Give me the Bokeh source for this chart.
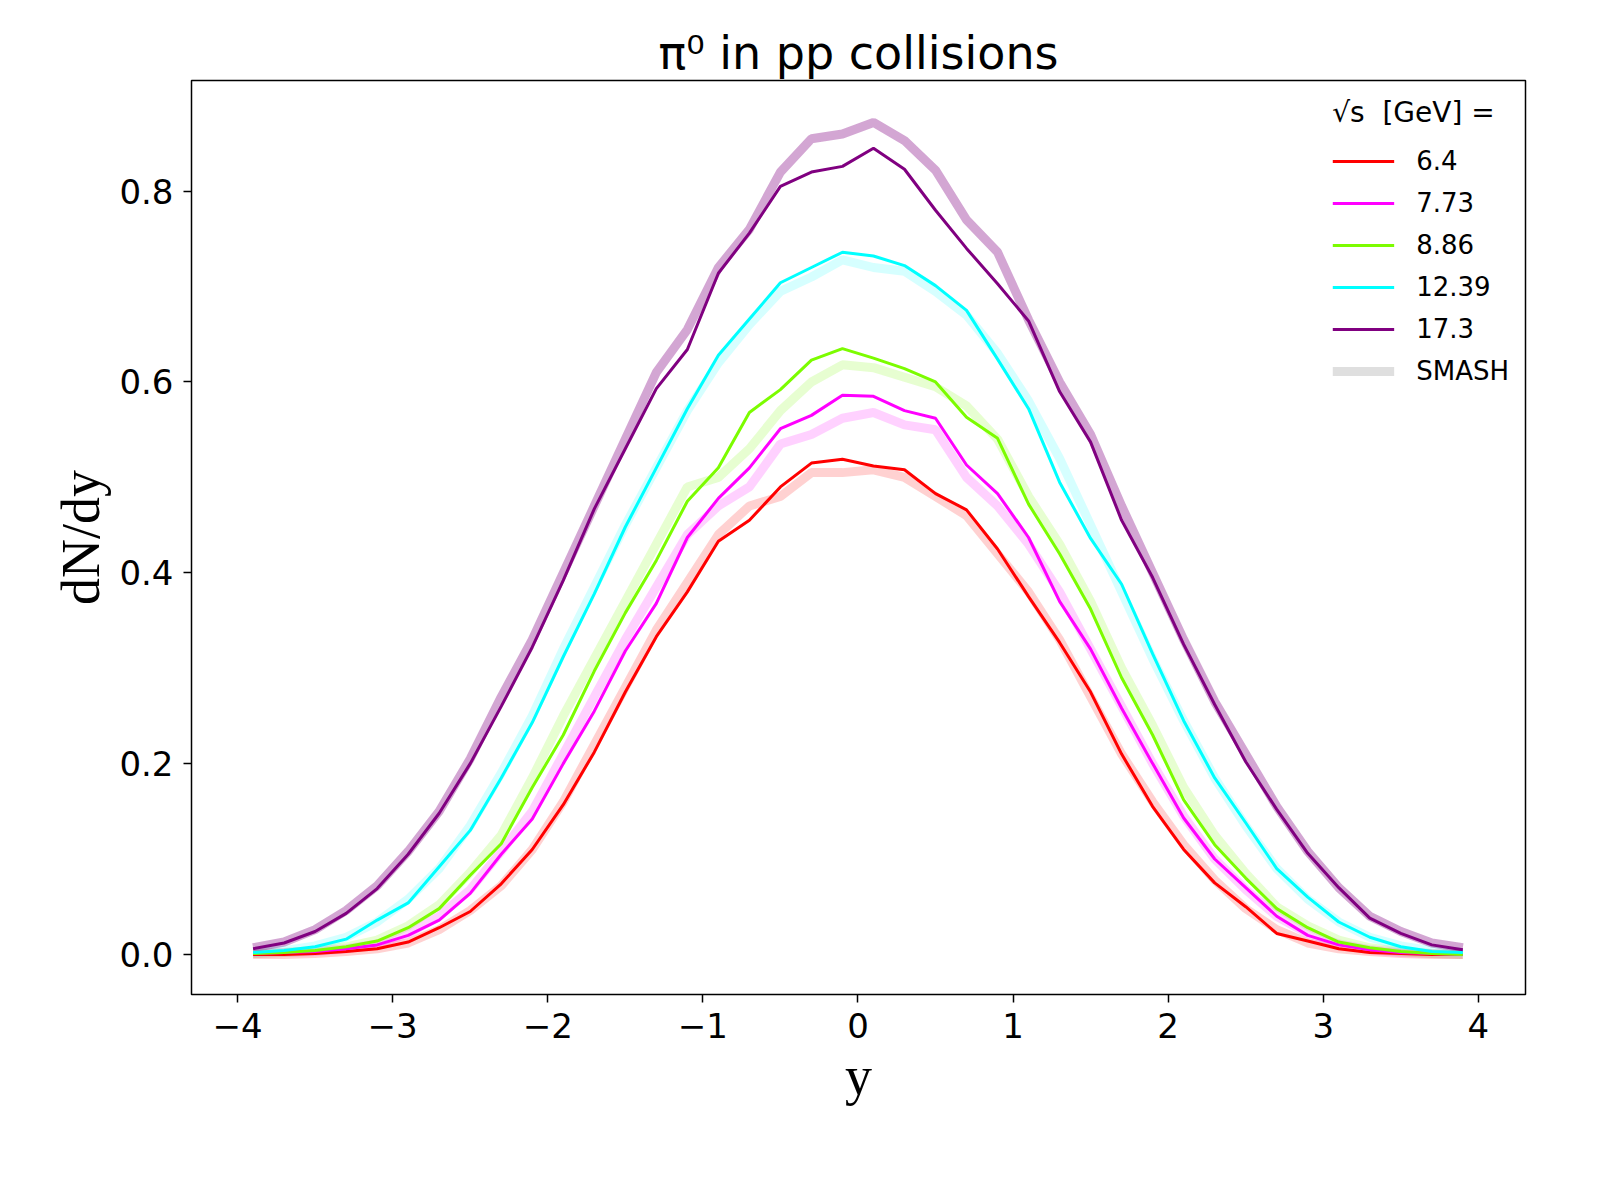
from bokeh.plotting import figure
from bokeh.models import Legend, LegendItem, Label, Range1d, FixedTicker
from bokeh.embed import file_html
from bokeh.resources import INLINE

y_bins = [round(-3.9 + 0.2 * i, 1) for i in range(40)]
energies = ["6.4", "7.73", "8.86", "12.39", "17.3"]
colors = ["red", "magenta", "lawngreen", "cyan", "purple"]

exp_64 = [0.0, 0.0, 0.001, 0.003, 0.006, 0.013, 0.028, 0.045, 0.074, 0.11, 0.157, 0.212, 0.275, 0.333, 0.38, 0.433, 0.455, 0.49, 0.515, 0.519,
          0.512, 0.508, 0.483, 0.466, 0.425, 0.375, 0.327, 0.275, 0.21, 0.155, 0.11, 0.075, 0.05, 0.022, 0.014, 0.006, 0.002, 0.001, 0.0, 0.0]
exp_773 = [0.001, 0.002, 0.003, 0.006, 0.01, 0.02, 0.036, 0.064, 0.105, 0.142, 0.2, 0.255, 0.318, 0.368, 0.437, 0.478, 0.51, 0.551, 0.565, 0.586,
           0.585, 0.57, 0.562, 0.513, 0.483, 0.437, 0.37, 0.32, 0.258, 0.2, 0.143, 0.1, 0.07, 0.04, 0.02, 0.01, 0.005, 0.002, 0.001, 0.0]
exp_886 = [0.001, 0.002, 0.004, 0.008, 0.014, 0.028, 0.048, 0.083, 0.116, 0.175, 0.23, 0.297, 0.358, 0.413, 0.475, 0.51, 0.568, 0.592, 0.623, 0.635,
           0.625, 0.614, 0.6, 0.563, 0.541, 0.472, 0.42, 0.362, 0.29, 0.23, 0.162, 0.115, 0.08, 0.048, 0.028, 0.013, 0.007, 0.003, 0.001, 0.0]
exp_1239 = [0.002, 0.004, 0.008, 0.016, 0.036, 0.054, 0.092, 0.13, 0.185, 0.243, 0.312, 0.378, 0.448, 0.51, 0.572, 0.628, 0.666, 0.704, 0.72, 0.736,
            0.732, 0.722, 0.701, 0.675, 0.624, 0.572, 0.495, 0.436, 0.388, 0.315, 0.245, 0.185, 0.138, 0.09, 0.06, 0.034, 0.018, 0.008, 0.003, 0.002]
exp_173 = [0.006, 0.012, 0.024, 0.043, 0.069, 0.105, 0.148, 0.2, 0.26, 0.322, 0.392, 0.467, 0.53, 0.593, 0.634, 0.714, 0.756, 0.805, 0.82, 0.826,
           0.845, 0.823, 0.78, 0.74, 0.703, 0.664, 0.59, 0.537, 0.455, 0.395, 0.325, 0.262, 0.202, 0.152, 0.106, 0.07, 0.038, 0.022, 0.01, 0.005]

smash_64 = [0.0, 0.0, 0.001, 0.003, 0.006, 0.012, 0.026, 0.046, 0.072, 0.11, 0.16, 0.22, 0.28, 0.34, 0.39, 0.44, 0.47, 0.48, 0.505, 0.505,
            0.508, 0.5, 0.48, 0.46, 0.42, 0.38, 0.33, 0.27, 0.21, 0.16, 0.115, 0.078, 0.048, 0.026, 0.012, 0.006, 0.003, 0.001, 0.0, 0.0]
smash_773 = [0.001, 0.002, 0.003, 0.006, 0.011, 0.022, 0.04, 0.068, 0.108, 0.15, 0.21, 0.27, 0.33, 0.385, 0.44, 0.47, 0.49, 0.535, 0.545, 0.562,
             0.568, 0.555, 0.55, 0.5, 0.47, 0.43, 0.38, 0.32, 0.26, 0.2, 0.145, 0.1, 0.068, 0.04, 0.022, 0.011, 0.005, 0.002, 0.001, 0.0]
smash_886 = [0.001, 0.002, 0.004, 0.008, 0.015, 0.03, 0.052, 0.086, 0.125, 0.185, 0.25, 0.31, 0.37, 0.43, 0.49, 0.5, 0.53, 0.57, 0.6, 0.618,
             0.615, 0.605, 0.595, 0.575, 0.54, 0.48, 0.43, 0.37, 0.3, 0.24, 0.175, 0.125, 0.085, 0.05, 0.03, 0.015, 0.007, 0.003, 0.001, 0.0]
smash_1239 = [0.002, 0.004, 0.009, 0.018, 0.034, 0.058, 0.09, 0.135, 0.19, 0.25, 0.32, 0.385, 0.45, 0.51, 0.57, 0.62, 0.66, 0.695, 0.71, 0.728,
              0.72, 0.716, 0.695, 0.67, 0.63, 0.58, 0.52, 0.45, 0.38, 0.31, 0.245, 0.185, 0.135, 0.09, 0.058, 0.034, 0.018, 0.009, 0.004, 0.002]
smash_173 = [0.007, 0.013, 0.026, 0.046, 0.072, 0.108, 0.15, 0.205, 0.27, 0.33, 0.4, 0.47, 0.54, 0.61, 0.655, 0.72, 0.76, 0.82, 0.855, 0.86,
             0.872, 0.853, 0.822, 0.77, 0.736, 0.665, 0.6, 0.545, 0.47, 0.4, 0.33, 0.265, 0.21, 0.155, 0.108, 0.07, 0.04, 0.024, 0.012, 0.007]

exp_sets = [exp_64, exp_773, exp_886, exp_1239, exp_173]
smash_sets = [smash_64, smash_773, smash_886, smash_1239, smash_173]
smash_alpha = [0.18, 0.18, 0.18, 0.16, 0.35]

p = figure(frame_width=1334, frame_height=914, output_backend="svg", toolbar_location=None,
           x_range=Range1d(-4.297, 4.304), y_range=Range1d(-0.042, 0.916),
           min_border_left=191, min_border_right=35, min_border_top=80, min_border_bottom=158)
p.grid.visible = False
p.outline_line_color = "black"
p.outline_line_width = 1.5

p.title.text = "π⁰ in pp collisions"
p.title.text_font = "DejaVu Sans"
p.title.text_font_size = "46px"
p.title.text_font_style = "normal"
p.title.text_color = "black"
p.title.align = "center"
p.title.offset = 0
p.title.standoff = 2

for ax in (p.xaxis[0], p.yaxis[0]):
    ax.major_label_text_font = "DejaVu Sans"
    ax.major_label_text_font_size = "34px"
    ax.major_label_text_color = "black"
    ax.minor_tick_line_color = None
    ax.major_tick_out = 8
    ax.major_tick_in = 0
    ax.major_tick_line_width = 1.5
    ax.major_tick_line_color = "black"
    ax.axis_line_color = None
    ax.axis_label_text_font = "Liberation Serif"
    ax.axis_label_text_font_size = "54px"
    ax.axis_label_text_font_style = "normal"
    ax.axis_label_text_color = "black"
p.xaxis.ticker = FixedTicker(ticks=[-4, -3, -2, -1, 0, 1, 2, 3, 4])
p.yaxis.ticker = FixedTicker(ticks=[0.0, 0.2, 0.4, 0.6, 0.8])
p.xaxis.major_label_overrides = {t: ("−%d" % -t if t < 0 else str(t)) for t in range(-4, 5)}
p.yaxis.major_label_overrides = {0.0: "0.0", 0.2: "0.2", 0.4: "0.4", 0.6: "0.6", 0.8: "0.8"}
p.xaxis.axis_label = "y"
p.yaxis.axis_label = "dN/dy"
p.xaxis.major_label_standoff = 10
p.yaxis.major_label_standoff = 10

items = []
for e, c, ex, sm, a in zip(energies, colors, exp_sets, smash_sets, smash_alpha):
    p.line(y_bins, sm, line_color=c, line_alpha=a, line_width=9)
for e, c, ex in zip(energies, colors, exp_sets):
    r = p.line(y_bins, ex, line_color=c, line_width=3)
    items.append(LegendItem(label=e, renderers=[r]))
rs = p.line([0], [0], line_color="gray", line_alpha=0.25, line_width=9, visible=False)
items.append(LegendItem(label="SMASH", renderers=[rs]))

leg = Legend(items=items, location="top_right", border_line_color=None,
             background_fill_alpha=0, title="√s  [GeV] =",
             title_text_font="DejaVu Sans", title_text_font_size="28px", title_text_font_style="normal",
             title_text_color="black", title_standoff=14,
             label_text_font="DejaVu Sans", label_text_font_size="26px", label_text_color="black",
             glyph_width=62, glyph_height=36, label_standoff=22, spacing=6, margin=16)
p.add_layout(leg)

p.add_layout(Label(x=-3.95, y=0.955, text="SMASH code:      SMASH-3.4",
                   text_font="DejaVu Sans", text_font_size="10px", text_color="#555555"))
p.add_layout(Label(x=-3.95, y=0.942, text="SMASH analysis: SMASH-analysis-3.4",
                   text_font="DejaVu Sans", text_font_size="10px", text_color="#555555"))

open("out.html", "w").write(file_html(p, INLINE))
